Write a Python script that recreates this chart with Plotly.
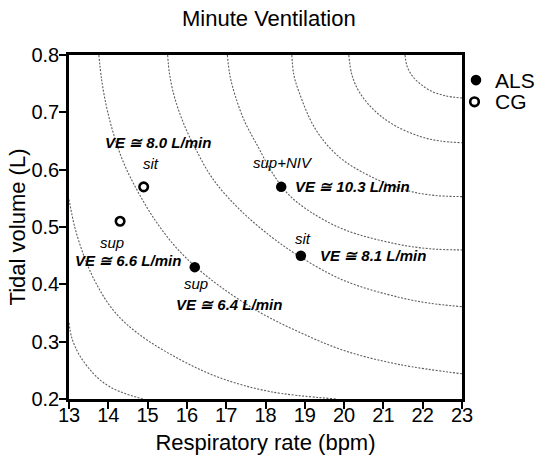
import plotly.graph_objects as go

FONT = "Liberation Sans, Arial, sans-serif"

# ---------------- data ----------------
als_rr = [16.2, 18.9, 18.4]
als_vt = [0.43, 0.45, 0.57]
als_pos = ["sup", "sit", "sup+NIV"]
als_ve = [6.4, 8.1, 10.3]

cg_rr = [14.3, 14.9]
cg_vt = [0.51, 0.57]
cg_pos = ["sup", "sit"]
cg_ve = [6.6, 8.0]

# dotted iso-ventilation guide curves (RR, VT)
iso1_x = [21.55, 21.60, 21.73, 21.93, 22.19, 22.57, 23.0]
iso1_y = [0.800, 0.781, 0.764, 0.750, 0.738, 0.729, 0.725]
iso2_x = [20.12, 20.20, 20.40, 20.79, 21.29, 21.93, 22.44, 23.0]
iso2_y = [0.800, 0.765, 0.734, 0.702, 0.677, 0.658, 0.650, 0.647]
iso3_x = [18.67, 18.72, 18.85, 19.26, 19.86, 20.71, 21.64, 22.31, 23.0]
iso3_y = [0.800, 0.766, 0.736, 0.672, 0.623, 0.587, 0.563, 0.555, 0.553]
iso4_x = [17.03, 17.09, 17.22, 17.47, 17.81, 18.16, 18.57, 19.13, 20.02, 21.29, 22.19, 23.0]
iso4_y = [0.800, 0.766, 0.731, 0.684, 0.640, 0.596, 0.558, 0.527, 0.495, 0.471, 0.462, 0.460]
iso5_x = [15.51, 15.56, 15.69, 15.92, 16.23, 16.68, 17.35, 18.11, 18.88, 20.02, 21.42, 22.19, 23.0]
iso5_y = [0.800, 0.766, 0.725, 0.680, 0.635, 0.582, 0.530, 0.485, 0.448, 0.406, 0.377, 0.367, 0.361]
iso6_x = [13.76, 13.83, 13.96, 14.14, 14.39, 14.75, 15.18, 15.69, 16.20, 16.89, 17.86, 18.88, 20.02, 21.42, 23.0]
iso6_y = [0.800, 0.757, 0.708, 0.661, 0.612, 0.562, 0.513, 0.467, 0.432, 0.394, 0.351, 0.316, 0.284, 0.260, 0.244]
iso7_x = [13.0, 13.15, 13.40, 13.71, 14.16, 14.80, 15.82, 16.84, 18.11, 19.82]
iso7_y = [0.548, 0.499, 0.446, 0.399, 0.352, 0.312, 0.269, 0.237, 0.213, 0.200]
iso8_x = [13.0, 13.07, 13.27, 13.60, 13.91, 14.29, 14.88]
iso8_y = [0.333, 0.307, 0.276, 0.246, 0.227, 0.213, 0.200]

iso_curves = [(iso1_x, iso1_y), (iso2_x, iso2_y), (iso3_x, iso3_y), (iso4_x, iso4_y),
              (iso5_x, iso5_y), (iso6_x, iso6_y), (iso7_x, iso7_y), (iso8_x, iso8_y)]

x_ticks = [13, 14, 15, 16, 17, 18, 19, 20, 21, 22, 23]
y_ticks = [0.2, 0.3, 0.4, 0.5, 0.6, 0.7, 0.8]

# ---------------- figure ----------------
fig = go.Figure()

for cx, cy in iso_curves:
    fig.add_trace(go.Scatter(
        x=cx, y=cy, mode="lines",
        line=dict(color="#5e5e5e", width=1.1, dash="2px,1.5px", shape="spline", smoothing=1.0),
        hoverinfo="skip", showlegend=False))

fig.add_trace(go.Scatter(
    x=als_rr, y=als_vt, mode="markers", name="ALS",
    marker=dict(symbol="circle", size=10.5, color="black", line=dict(width=0)),
    showlegend=False, cliponaxis=False))
fig.add_trace(go.Scatter(
    x=cg_rr, y=cg_vt, mode="markers", name="CG",
    marker=dict(symbol="circle", size=8.5, color="white", line=dict(width=2.6, color="black")),
    showlegend=False, cliponaxis=False))

annotations = []
lab_font = dict(family=FONT, size=15, color="black", style="italic")
ve_font = dict(family=FONT, size=15, color="black", style="italic", weight="bold")

# label offsets (pixels) relative to each point
cg_pos_off = {"sup": (-8, -21), "sit": (7, 23)}
cg_ve_off = {"sup": (8, -39, "center"), "sit": (14, 44, "center")}
als_pos_off = {"sup": (1, -16), "sit": (2, 17), "sup+NIV": (2, 24)}
als_ve_off = {"sup": (34, -37, "center"), "sit": (17, 0, "left"), "sup+NIV": (12, 0, "left")}

for x, y, p, v in zip(cg_rr, cg_vt, cg_pos, cg_ve):
    dx, dy = cg_pos_off[p]
    annotations.append(dict(x=x, y=y, xref="x", yref="y", text=p, showarrow=False,
                            xshift=dx, yshift=dy, font=lab_font))
    dx, dy, anc = cg_ve_off[p]
    annotations.append(dict(x=x, y=y, xref="x", yref="y", text=f"VE ≅ {v:.1f} L/min",
                            showarrow=False, xshift=dx, yshift=dy, xanchor=anc, font=ve_font))

for x, y, p, v in zip(als_rr, als_vt, als_pos, als_ve):
    dx, dy = als_pos_off[p]
    annotations.append(dict(x=x, y=y, xref="x", yref="y", text=p, showarrow=False,
                            xshift=dx, yshift=dy, font=lab_font))
    dx, dy, anc = als_ve_off[p]
    annotations.append(dict(x=x, y=y, xref="x", yref="y", text=f"VE ≅ {v:.1f} L/min",
                            showarrow=False, xshift=dx, yshift=dy, xanchor=anc, font=ve_font))

# manual legend
leg_font = dict(family=FONT, size=21, color="black")
annotations.append(dict(x=1.079, y=0.927, xref="paper", yref="paper", text="ALS",
                        showarrow=False, xanchor="left", yanchor="middle", font=leg_font))
annotations.append(dict(x=1.079, y=0.864, xref="paper", yref="paper", text="CG",
                        showarrow=False, xanchor="left", yanchor="middle", font=leg_font))
shapes = [
    dict(type="circle", xref="paper", yref="paper", xsizemode="pixel", ysizemode="pixel",
         xanchor=1.0356, yanchor=0.927, x0=-5.3, x1=5.3, y0=-5.3, y1=5.3,
         fillcolor="black", line=dict(width=0)),
    dict(type="circle", xref="paper", yref="paper", xsizemode="pixel", ysizemode="pixel",
         xanchor=1.0318, yanchor=0.864, x0=-4.3, x1=4.3, y0=-4.3, y1=4.3,
         fillcolor="white", line=dict(width=2.6, color="black")),
]

axis_common = dict(
    showline=True, linewidth=2.5, linecolor="black", mirror=True,
    ticks="outside", ticklen=7, tickwidth=2, tickcolor="black",
    showgrid=False, zeroline=False, automargin=False,
    tickfont=dict(family=FONT, size=20, color="black"),
)

fig.update_layout(
    width=542, height=465,
    margin=dict(l=69, r=80, t=55, b=66, autoexpand=False),
    paper_bgcolor="white", plot_bgcolor="white",
    font=dict(family=FONT, color="black"),
    title=dict(text="Minute Ventilation", x=0.496, xanchor="center", y=0.961, yanchor="middle",
               font=dict(family=FONT, size=22, color="black")),
    xaxis=dict(range=[13, 23], tickvals=x_ticks, ticklabelstandoff=-11,
               title=dict(text="Respiratory rate (bpm)", font=dict(family=FONT, size=22, color="black"), standoff=10),
               **axis_common),
    yaxis=dict(range=[0.2, 0.8], tickvals=y_ticks, tickformat=".1f", ticklabelstandoff=-4,
               title=dict(text="Tidal volume (L)", font=dict(family=FONT, size=22, color="black"), standoff=0),
               **axis_common),
    annotations=annotations,
    shapes=shapes,
    showlegend=False,
)

fig.write_html("out.html", config={"displayModeBar": False},
               post_script="document.body.style.margin='0';document.body.style.padding='0';")
